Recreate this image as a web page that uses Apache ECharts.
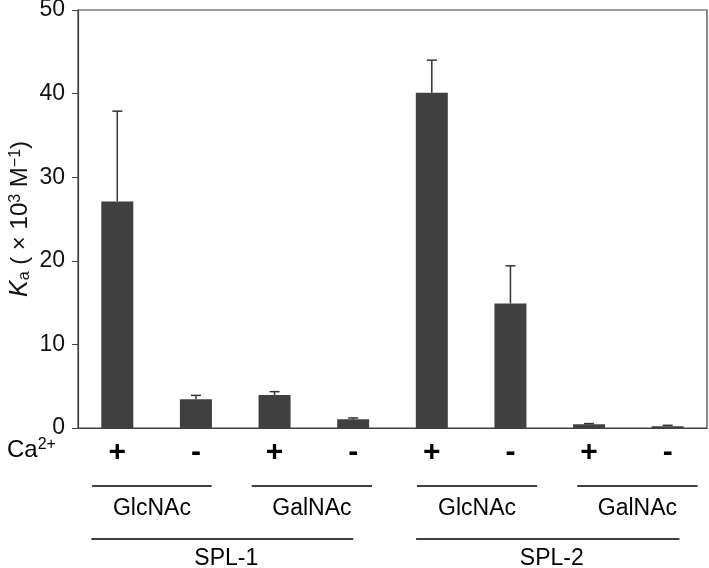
<!DOCTYPE html>
<html>
<head>
<meta charset="utf-8">
<script src="https://cdn.jsdelivr.net/npm/echarts@6/dist/echarts.min.js"></script>
<style>html,body{margin:0;padding:0;background:#fff}#c{width:709px;height:568px}</style>
</head>
<body>
<div id="c"></div>
<script>
// Data
const caLabels = ['+', '-', '+', '-', '+', '-', '+', '-'];
const values = [27.1, 3.45, 3.95, 1.05, 40.1, 14.9, 0.45, 0.22];
const errors = [10.8, 0.45, 0.4, 0.15, 3.9, 4.5, 0.08, 0.1];
const yTicks = [0, 10, 20, 30, 40, 50];
// group annotations: [label, startCategoryUnit, endCategoryUnit]
const sugarGroups = [['GlcNAc', 0.18, 1.70], ['GalNAc', 2.21, 3.74], ['GlcNAc', 4.31, 5.84], ['GalNAc', 6.35, 7.88]];
const lectinGroups = [['SPL-1', 0.17, 3.50], ['SPL-2', 4.30, 7.65]];

const FONT = 'Liberation Sans, Arial, sans-serif';
const chart = echarts.init(document.getElementById('c'), null, {renderer: 'canvas'});

const option = {
  animation: false,
  backgroundColor: '#fff',
  grid: {left: 78, right: 2, top: 10, bottom: 140, show: true, borderColor: '#404040', borderWidth: 1.2, containLabel: false, outerBoundsMode: 'none'},
  xAxis: {
    type: 'category',
    data: caLabels,
    axisLine: {lineStyle: {color: '#404040', width: 1.2}},
    axisTick: {show: false},
    axisLabel: {fontFamily: FONT, fontSize: 30, fontWeight: 'bold', color: '#000', margin: 10}
  },
  yAxis: {
    type: 'value',
    min: yTicks[0], max: yTicks[yTicks.length - 1], interval: 10,
    axisLine: {show: true, lineStyle: {color: '#404040', width: 1.2}},
    axisTick: {show: true, length: 6, lineStyle: {color: '#404040'}},
    splitLine: {show: false},
    axisLabel: {fontFamily: FONT, fontSize: 23, color: '#111', margin: 13},
    name: '{k|K}{sub|a}{n| ( × 10}{sup|3}{n| M}{sup|−1}{n|)}',
    nameLocation: 'middle',
    nameGap: 45,
    nameMoveOverlap: false,
    nameRotate: 90,
    nameTextStyle: {
      color: '#111',
      rich: {
        k: {fontFamily: FONT, fontSize: 25, fontStyle: 'italic', color: '#111'},
        n: {fontFamily: FONT, fontSize: 24, color: '#111'},
        sub: {fontFamily: FONT, fontSize: 16, color: '#111', verticalAlign: 'bottom', padding: [9, 0, 0, 0]},
        sup: {fontFamily: FONT, fontSize: 16, color: '#111', verticalAlign: 'top', padding: [0, 0, 9, 0]}
      }
    }
  },
  series: [
    {
      type: 'bar',
      data: values,
      barWidth: 32,
      itemStyle: {color: '#404040'},
      z: 2
    },
    {
      type: 'custom',
      z: 3,
      data: values.map((v, i) => [i, v, v + errors[i]]),
      renderItem: function (params, api) {
        const base = api.coord([api.value(0), api.value(1)]);
        const top = api.coord([api.value(0), api.value(2)]);
        const hw = 5;
        return {
          type: 'group',
          children: [
            {type: 'line', shape: {x1: base[0], y1: base[1], x2: top[0], y2: top[1]}, style: {stroke: '#333', lineWidth: 1.5}},
            {type: 'line', shape: {x1: top[0] - hw, y1: top[1], x2: top[0] + hw, y2: top[1]}, style: {stroke: '#333', lineWidth: 1.5}}
          ]
        };
      }
    }
  ]
};
chart.setOption(option);

// annotations below axis, positioned from the category axis scale
const p0 = chart.convertToPixel({xAxisIndex: 0}, 0);
const p1 = chart.convertToPixel({xAxisIndex: 0}, 1);
const band = p1 - p0;
const start = p0 - band / 2;
const ux = u => start + u * band;
const axisY = chart.convertToPixel({yAxisIndex: 0}, 0);

const g = [];
g.push({
  type: 'text', left: 7, top: axisY + 9,
  style: {
    text: '{n|Ca}{s|2+}',
    rich: {
      n: {fontFamily: FONT, fontSize: 24, fill: '#000'},
      s: {fontFamily: FONT, fontSize: 16, fill: '#000', verticalAlign: 'top', padding: [0, 0, 11, 0]}
    }
  }
});
sugarGroups.forEach(([lab, a, b]) => {
  const x1 = ux(a), x2 = ux(b);
  g.push({type: 'line', shape: {x1, y1: axisY + 58, x2, y2: axisY + 58}, style: {stroke: '#000', lineWidth: 1.5}});
  g.push({type: 'text', x: (x1 + x2) / 2, y: axisY + 81, style: {text: lab, fontFamily: FONT, fontSize: 23, fill: '#000', align: 'center', verticalAlign: 'middle'}});
});
lectinGroups.forEach(([lab, a, b]) => {
  const x1 = ux(a), x2 = ux(b);
  g.push({type: 'line', shape: {x1, y1: axisY + 111, x2, y2: axisY + 111}, style: {stroke: '#000', lineWidth: 1.5}});
  g.push({type: 'text', x: (x1 + x2) / 2 + 4, y: axisY + 131, style: {text: lab, fontFamily: FONT, fontSize: 23, fill: '#000', align: 'center', verticalAlign: 'middle'}});
});
chart.setOption({graphic: g});
</script>
</body>
</html>
